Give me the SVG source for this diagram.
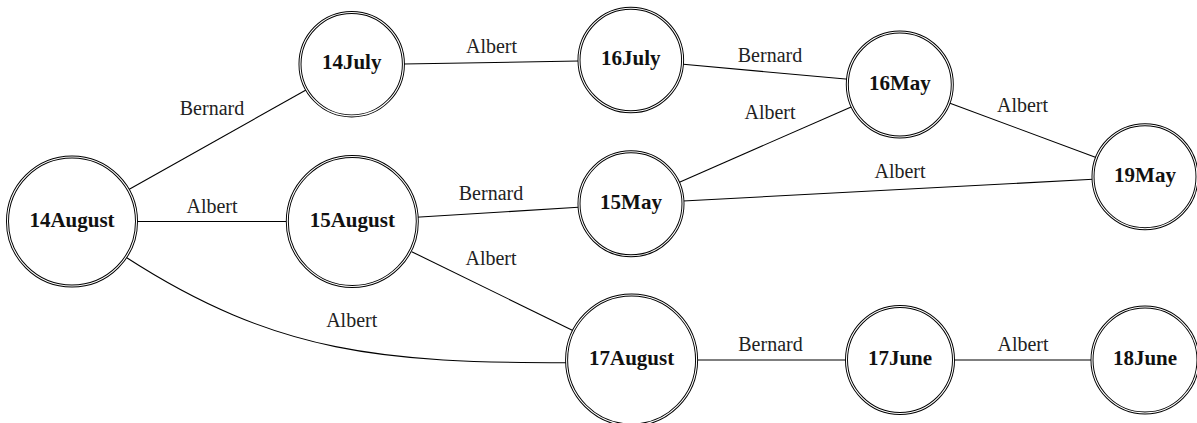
<svg xmlns="http://www.w3.org/2000/svg" width="1197" height="423" viewBox="0 0 1197 423">
<style>
.ring{fill:#fff;stroke:#000;stroke-width:3}
.gap{fill:none;stroke:#fff;stroke-width:1.1}
.nl{font-weight:bold;font-size:21px;text-anchor:middle;fill:#111}
.el{font-size:20px;text-anchor:middle;fill:#222}
.edge{fill:none;stroke:#000;stroke-width:1.1}
</style>
<rect width="1197" height="423" fill="#fff"/>
<g id="connectors" font-family="Liberation Serif, Times New Roman, DejaVu Serif, serif">
<line class="edge" x1="129.3" y1="189.3" x2="307.3" y2="89.3"/>
<line class="edge" x1="403.3" y1="64" x2="579" y2="61"/>
<line class="edge" x1="683.3" y1="64.3" x2="848.3" y2="79.3"/>
<line class="edge" x1="678.3" y1="182.7" x2="851.7" y2="106.7"/>
<line class="edge" x1="950" y1="103.3" x2="1096.7" y2="157.7"/>
<line class="edge" x1="683" y1="201" x2="1093" y2="179.3"/>
<line class="edge" x1="137" y1="221.5" x2="287.3" y2="221.5"/>
<line class="edge" x1="416" y1="217.3" x2="578.3" y2="207.3"/>
<line class="edge" x1="411.7" y1="251.7" x2="573.3" y2="330.7"/>
<line class="edge" x1="696.6" y1="360" x2="846.5" y2="360"/>
<line class="edge" x1="953.5" y1="360" x2="1092" y2="360"/>
<path class="edge" d="M126,257.3 C277,355 386.7,362.7 566.7,362.7"/>
<text class="el" x="212" y="115">Bernard</text>
<text class="el" x="491.5" y="52.7">Albert</text>
<text class="el" x="770" y="61.7">Bernard</text>
<text class="el" x="770" y="119.3">Albert</text>
<text class="el" x="1022.5" y="112">Albert</text>
<text class="el" x="900" y="178">Albert</text>
<text class="el" x="212" y="213.3">Albert</text>
<text class="el" x="491" y="200">Bernard</text>
<text class="el" x="491" y="265">Albert</text>
<text class="el" x="351.7" y="327.3">Albert</text>
<text class="el" x="770.5" y="351">Bernard</text>
<text class="el" x="1023" y="351">Albert</text>
</g>
<g id="nodes" font-family="Liberation Serif, Times New Roman, DejaVu Serif, serif">
<g id="n14August"><circle class="ring" cx="72" cy="221.5" r="64.5"/><circle class="gap" cx="72" cy="221.5" r="64.5"/><text class="nl" x="72" y="226.5">14August</text></g>
<g id="n15August"><circle class="ring" cx="352.3" cy="221.5" r="65"/><circle class="gap" cx="352.3" cy="221.5" r="65"/><text class="nl" x="352.3" y="226.5">15August</text></g>
<g id="n14July"><circle class="ring" cx="351.7" cy="64.2" r="51.7"/><circle class="gap" cx="351.7" cy="64.2" r="51.7"/><text class="nl" x="351.7" y="69">14July</text></g>
<g id="n16July"><circle class="ring" cx="630.8" cy="60" r="51.8"/><circle class="gap" cx="630.8" cy="60" r="51.8"/><text class="nl" x="630.8" y="65">16July</text></g>
<g id="n15May"><circle class="ring" cx="631" cy="203.8" r="52"/><circle class="gap" cx="631" cy="203.8" r="52"/><text class="nl" x="631" y="208.8">15May</text></g>
<g id="n16May"><circle class="ring" cx="899.8" cy="84.5" r="52.5"/><circle class="gap" cx="899.8" cy="84.5" r="52.5"/><text class="nl" x="899.8" y="89.5">16May</text></g>
<g id="n19May"><circle class="ring" cx="1145" cy="176.7" r="52"/><circle class="gap" cx="1145" cy="176.7" r="52"/><text class="nl" x="1145" y="181.7">19May</text></g>
<g id="n17August"><circle class="ring" cx="631.6" cy="360" r="65"/><circle class="gap" cx="631.6" cy="360" r="65"/><text class="nl" x="631.6" y="365">17August</text></g>
<g id="n17June"><circle class="ring" cx="900" cy="360" r="53.5"/><circle class="gap" cx="900" cy="360" r="53.5"/><text class="nl" x="900" y="365">17June</text></g>
<g id="n18June"><circle class="ring" cx="1145" cy="360" r="53"/><circle class="gap" cx="1145" cy="360" r="53"/><text class="nl" x="1145" y="365">18June</text></g>
</g>
</svg>
